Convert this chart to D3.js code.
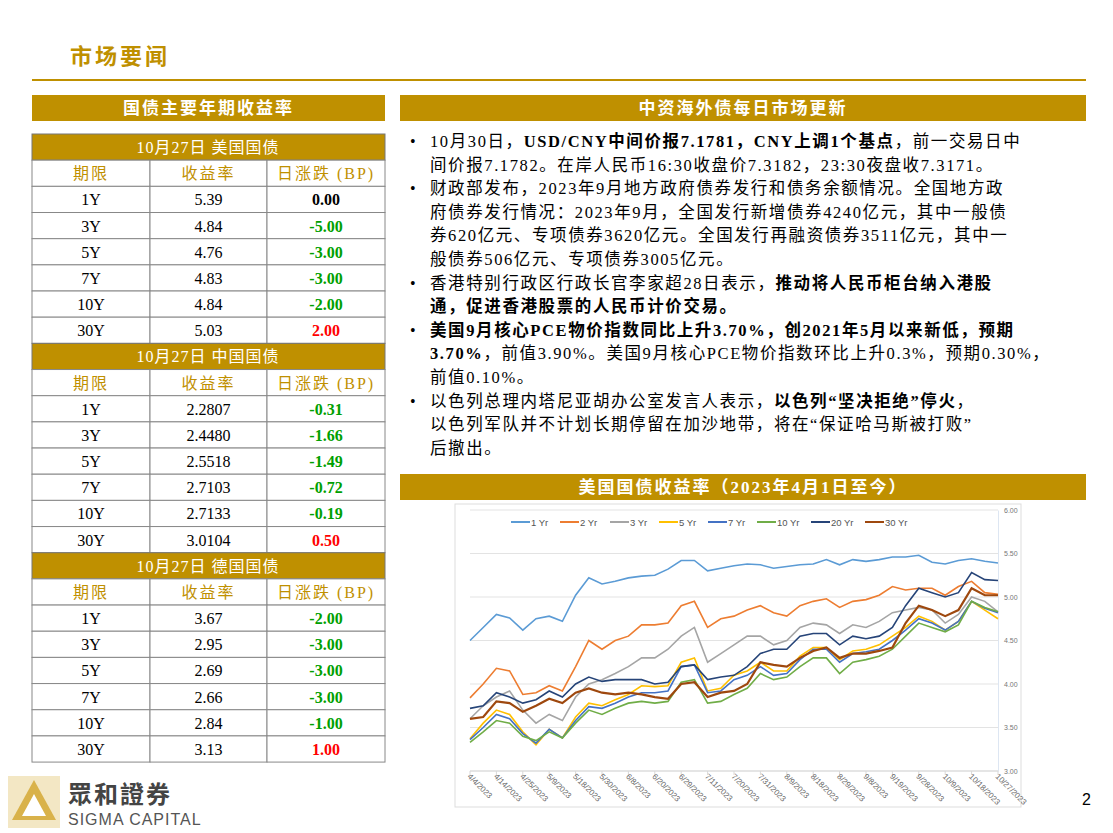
<!DOCTYPE html>
<html><head><meta charset="utf-8">
<script src="https://cdn.jsdelivr.net/npm/d3@7"></script>
<style>body{margin:0;background:#fff}</style></head>
<body><svg id="s" width="1113" height="833"></svg>
<script>
const GOLD="#BF9000";
const usRows=[["1Y","5.39","0.00"],["3Y","4.84","-5.00"],["5Y","4.76","-3.00"],["7Y","4.83","-3.00"],["10Y","4.84","-2.00"],["30Y","5.03","2.00"]];
const cnRows=[["1Y","2.2807","-0.31"],["3Y","2.4480","-1.66"],["5Y","2.5518","-1.49"],["7Y","2.7103","-0.72"],["10Y","2.7133","-0.19"],["30Y","3.0104","0.50"]];
const deRows=[["1Y","3.67","-2.00"],["3Y","2.95","-3.00"],["5Y","2.69","-3.00"],["7Y","2.66","-3.00"],["10Y","2.84","-1.00"],["30Y","3.13","1.00"]];
const sections=[["10月27日  美国国债",usRows],["10月27日  中国国债",cnRows],["10月27日  德国国债",deRows]];
const colHeads=["期限","收益率","日涨跌 (BP)"];
const dateLabels=["4/4/2023","4/14/2023","4/25/2023","5/9/2023","5/18/2023","5/30/2023","6/8/2023","6/20/2023","6/29/2023","7/11/2023","7/20/2023","7/31/2023","8/9/2023","8/18/2023","8/29/2023","9/8/2023","9/19/2023","9/28/2023","10/9/2023","10/18/2023","10/27/2023"];
const seriesNames=["1 Yr","2 Yr","3 Yr","5 Yr","7 Yr","10 Yr","20 Yr","30 Yr"];
const seriesColors=["#5B9BD5","#ED7D31","#A5A5A5","#FFC000","#4472C4","#70AD47","#264478","#9E480E"];
const y1=[4.50,4.65,4.80,4.76,4.62,4.75,4.78,4.72,5.02,5.22,5.15,5.18,5.22,5.24,5.25,5.32,5.42,5.42,5.30,5.33,5.36,5.38,5.37,5.33,5.35,5.37,5.38,5.43,5.37,5.43,5.41,5.43,5.46,5.46,5.48,5.40,5.38,5.42,5.44,5.41,5.39];
const y2=[3.84,4.00,4.18,4.15,3.88,3.90,3.98,3.92,4.20,4.50,4.40,4.50,4.55,4.68,4.68,4.70,4.90,4.95,4.65,4.75,4.78,4.85,4.90,4.82,4.78,4.90,4.95,4.98,4.88,4.95,4.97,5.02,5.12,5.08,5.10,5.10,5.02,5.12,5.18,5.05,5.03];
const y3=[3.60,3.75,3.85,3.92,3.70,3.55,3.65,3.58,3.85,4.00,4.05,4.12,4.20,4.30,4.30,4.40,4.55,4.65,4.25,4.35,4.45,4.55,4.55,4.45,4.50,4.65,4.70,4.68,4.58,4.68,4.65,4.72,4.82,4.85,4.88,4.85,4.70,4.80,5.00,4.95,4.83];
const y5=[3.37,3.55,3.70,3.65,3.45,3.30,3.48,3.38,3.62,3.78,3.75,3.82,3.88,3.98,3.97,3.98,4.25,4.30,3.92,3.95,4.10,4.15,4.25,4.15,4.15,4.32,4.42,4.42,4.28,4.38,4.40,4.45,4.55,4.65,4.78,4.72,4.62,4.72,4.95,4.85,4.75];
const y7=[3.36,3.50,3.65,3.60,3.43,3.32,3.48,3.38,3.58,3.74,3.72,3.78,3.85,3.90,3.90,3.92,4.20,4.22,3.90,3.92,4.05,4.10,4.20,4.10,4.12,4.28,4.40,4.40,4.25,4.35,4.37,4.40,4.50,4.62,4.75,4.70,4.62,4.72,4.95,4.87,4.82];
const y10=[3.33,3.45,3.58,3.55,3.40,3.35,3.45,3.38,3.55,3.70,3.65,3.72,3.78,3.80,3.78,3.80,4.02,4.05,3.78,3.80,3.88,3.95,4.12,4.05,4.08,4.20,4.30,4.30,4.12,4.25,4.28,4.32,4.40,4.55,4.70,4.65,4.60,4.68,4.95,4.88,4.83];
const y20=[3.72,3.75,3.90,3.85,3.78,3.82,3.92,3.85,4.00,4.08,4.03,4.05,4.05,4.05,4.00,4.02,4.20,4.22,4.05,4.08,4.10,4.20,4.35,4.40,4.40,4.55,4.58,4.58,4.45,4.55,4.52,4.55,4.65,4.90,5.10,5.05,5.00,5.05,5.28,5.20,5.19];
const y30=[3.60,3.62,3.80,3.78,3.68,3.75,3.83,3.78,3.90,3.95,3.90,3.88,3.90,3.88,3.85,3.83,4.00,4.02,3.85,3.90,3.92,4.00,4.25,4.22,4.20,4.30,4.38,4.42,4.30,4.35,4.35,4.38,4.42,4.70,4.90,4.85,4.78,4.85,5.10,5.02,5.02];
const seriesValues=[y1,y2,y3,y5,y7,y10,y20,y30];
const yTicks=[3.00,3.50,4.00,4.50,5.00,5.50,6.00];
const bullets=[
 [[["10月30日，",0],["USD/CNY中间价报7.1781，CNY上调1个基点",1],["，前一交易日中",0]],[["间价报7.1782。在岸人民币16:30收盘价7.3182，23:30夜盘收7.3171。",0]]],
 [[["财政部发布，2023年9月地方政府债券发行和债务余额情况。全国地方政",0]],[["府债券发行情况：2023年9月，全国发行新增债券4240亿元，其中一般债",0]],[["券620亿元、专项债券3620亿元。全国发行再融资债券3511亿元，其中一",0]],[["般债券506亿元、专项债券3005亿元。",0]]],
 [[["香港特别行政区行政长官李家超28日表示，",0],["推动将人民币柜台纳入港股",1]],[["通，促进香港股票的人民币计价交易。",1]]],
 [[["美国9月核心PCE物价指数同比上升3.70%，创2021年5月以来新低，预期",1]],[["3.70%",1],["，前值3.90%。美国9月核心PCE物价指数环比上升0.3%，预期0.30%，",0]],[["前值0.10%。",0]]],
 [[["以色列总理内塔尼亚胡办公室发言人表示，",0],["以色列“坚决拒绝”停火",1],["，",0]],[["以色列军队并不计划长期停留在加沙地带，将在“保证哈马斯被打败”",0]],[["后撤出。",0]]]
];

const svg=d3.select("#s");
const CJK="'Noto Sans CJK SC','Liberation Serif',serif";
const SER="'Liberation Serif','Noto Sans CJK SC',serif";
svg.append("text").attr("x",70).attr("y",64).attr("fill",GOLD).attr("font-size",22).attr("font-weight","bold").attr("font-family",CJK).attr("letter-spacing",3).text("市场要闻");
svg.append("line").attr("x1",32).attr("x2",1086).attr("y1",80).attr("y2",80).attr("stroke",GOLD).attr("stroke-width",2);

function bar(x,y,w,h,t){
 svg.append("rect").attr("x",x).attr("y",y).attr("width",w).attr("height",h).attr("fill",GOLD);
 svg.append("text").attr("x",x+w/2).attr("y",y+h/2+6).attr("text-anchor","middle").attr("fill","#fff").attr("font-size",17).attr("font-weight","bold").attr("font-family",SER).attr("letter-spacing",2).text(t);
}
bar(32,95,353,26,"国债主要年期收益率");
bar(400,95,686,26,"中资海外债每日市场更新");
bar(400,474,686,26,"美国国债收益率（2023年4月1日至今）");

const cols=[32,150,267,385], rh=26.17; let ty=134;
sections.forEach(([title,rows])=>{
 svg.append("rect").attr("x",32).attr("y",ty).attr("width",353).attr("height",rh).attr("fill",GOLD).attr("stroke","#777");
 svg.append("text").attr("x",208).attr("y",ty+19).attr("text-anchor","middle").attr("fill","#fff").attr("font-size",16).attr("font-family",SER).attr("letter-spacing",1).text(title);
 ty+=rh;
 const all=[colHeads].concat(rows);
 all.forEach((r,ri)=>{
  r.forEach((c,ci)=>{
   svg.append("rect").attr("x",cols[ci]).attr("y",ty).attr("width",cols[ci+1]-cols[ci]).attr("height",rh).attr("fill","#fff").attr("stroke","#888");
   let fill="#000",fw="normal";
   if(ri===0) fill=GOLD;
   else if(ci===2){fw="bold"; const v=+c; fill=v<0?"#00A000":v>0?"#FF0000":"#000";}
   svg.append("text").attr("x",(cols[ci]+cols[ci+1])/2).attr("y",ty+19).attr("text-anchor","middle").attr("fill",fill).attr("font-weight",fw).attr("font-size",16).attr("font-family",SER).attr("letter-spacing",ri===0?2:0).text(c);
  });
  ty+=rh;
 });
});

let by=147;
bullets.forEach(b=>{
 svg.append("text").attr("x",410).attr("y",by).attr("font-size",16).text("•");
 b.forEach(line=>{
  const t=svg.append("text").attr("x",430).attr("y",by).attr("font-size",16.5).attr("letter-spacing",1.6).attr("font-family",SER);
  line.forEach(([s,bold])=>t.append("tspan").attr("font-weight",bold?"bold":"normal").text(s));
  by+=23.6;
 });
});

svg.append("rect").attr("x",455).attr("y",504).attr("width",566).attr("height",303).attr("fill","#fff").attr("stroke","#ddd");
const x=d3.scaleLinear().domain([0,40]).range([470,998]);
const y=d3.scaleLinear().domain([3,6]).range([771,510]);
const g=svg.append("g");
yTicks.forEach(t=>{g.append("line").attr("x1",470).attr("x2",998).attr("y1",y(t)).attr("y2",y(t)).attr("stroke","#e3e3e3");});
g.append("g").attr("transform","translate(998,0)").call(d3.axisRight(y).tickValues(yTicks).tickFormat(d3.format(".2f")).tickSize(0).tickPadding(6))
 .call(a=>{a.select(".domain").attr("stroke","#dde6f2");a.selectAll("text").attr("fill","#777").attr("font-size",7).attr("font-family","Liberation Sans");});
g.append("line").attr("x1",470).attr("x2",998).attr("y1",771).attr("y2",771).attr("stroke","#d9d9d9");
dateLabels.forEach((d,i)=>{
 const xx=x(i*2);
 g.append("line").attr("x1",xx).attr("x2",xx).attr("y1",771).attr("y2",775).attr("stroke","#d9d9d9");
 g.append("text").attr("transform",`translate(${xx-3},${777}) rotate(45)`).attr("font-size",8).attr("fill","#666").attr("font-family","Liberation Sans").text(d);
});
const line=d3.line().x((d,i)=>x(i)).y(d=>y(d)).curve(d3.curveLinear);
seriesValues.forEach((v,k)=>{
 g.append("path").attr("d",line(v)).attr("fill","none").attr("stroke",seriesColors[k]).attr("stroke-width",k===7?2.2:1.6);
});
const lx=[511,560,610,659,708,757,811,865];
seriesNames.forEach((n,k)=>{
 g.append("line").attr("x1",lx[k]).attr("x2",lx[k]+19).attr("y1",522).attr("y2",522).attr("stroke",seriesColors[k]).attr("stroke-width",2);
 g.append("text").attr("x",lx[k]+20).attr("y",525.5).attr("font-size",9.5).attr("fill","#555").attr("font-family","Liberation Sans").text(n);
});

const lg=svg.append("g").attr("transform","translate(8,776)");
lg.append("rect").attr("width",52).attr("height",52).attr("fill","#F3E7C4");
lg.append("path").attr("d","M26,4 L48,44 L4,44 Z").attr("fill","#D9B24A");
lg.append("path").attr("d","M26,18 L38,40 L14,40 Z").attr("fill","#fff");
svg.append("text").attr("x",68).attr("y",803).attr("font-size",24).attr("font-weight","bold").attr("fill","#444").attr("font-family","'Noto Sans CJK TC'").attr("letter-spacing",2).text("眾和證券");
svg.append("text").attr("x",68).attr("y",825).attr("font-size",16).attr("fill","#555").attr("font-family","'Liberation Sans'").attr("letter-spacing",1).text("SIGMA CAPITAL");
svg.append("text").attr("x",1082).attr("y",805).attr("font-size",16).attr("font-family","Liberation Sans").text("2");
</script></body></html>
